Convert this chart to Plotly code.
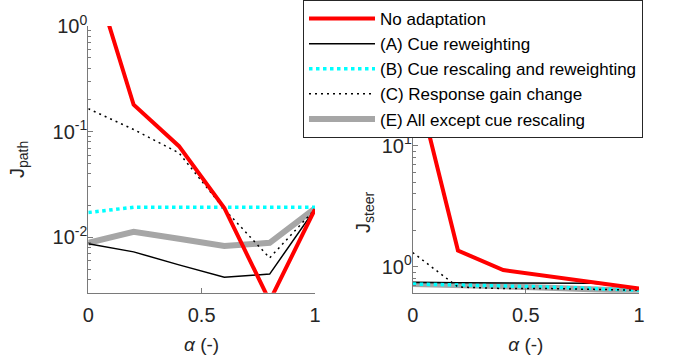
"""Coste de trayectoria y de dirección frente a alpha, por tipo de adaptación."""

import numpy as np
import plotly.graph_objects as go
from plotly.subplots import make_subplots

RED = "#ff0000"
BLACK = "#000000"
CYAN = "#00ffff"
GRAY = "#a6a6a6"
AXIS = "#7a7a7a"
TEXT = "#262626"
FONT = "Liberation Sans, Arial, sans-serif"

alpha = [0, 0.2, 0.4, 0.6, 0.8, 1]

# J_path (left panel)
path_none = [4.4, 0.18, 0.073, 0.019, 0.0025, 0.0185]
path_a = [0.0087, 0.0073, 0.0055, 0.0042, 0.0045, 0.0185]
path_b = [0.0172, 0.0193, 0.0193, 0.0193, 0.0193, 0.0193]
path_c = [0.165, 0.105, 0.063, 0.0185, 0.0064, 0.0185]
path_e = [0.0089, 0.0113, 0.0097, 0.0083, 0.0089, 0.0188]

# J_steer (right panel)
steer_none = [44, 1.36, 0.94, 0.84, 0.74, 0.66]
steer_a = [0.74, 0.74, 0.74, 0.74, 0.73, 0.66]
steer_b = [0.72, 0.71, 0.70, 0.68, 0.66, 0.64]
steer_c = [1.31, 0.68, 0.66, 0.66, 0.65, 0.64]
steer_e = [0.72, 0.71, 0.69, 0.67, 0.65, 0.63]

names = [
    "No adaptation",
    "(A) Cue reweighting",
    "(B) Cue rescaling and reweighting",
    "(C) Response gain change",
    "(E) All except cue rescaling",
]

# drawing order: thick gray underneath, red on top
styles = [
    (4, dict(color=GRAY, width=6)),
    (1, dict(color=BLACK, width=1.5)),
    (2, dict(color=CYAN, width=3.5, dash="dot")),
    (3, dict(color=BLACK, width=1.5, dash="2px,4px")),
    (0, dict(color=RED, width=4)),
]

fig = make_subplots(rows=1, cols=2)

series_path = [path_none, path_a, path_b, path_c, path_e]
series_steer = [steer_none, steer_a, steer_b, steer_c, steer_e]

for idx, line in styles:
    fig.add_trace(go.Scatter(
        x=alpha, y=series_path[idx], mode="lines", line=line,
        name=names[idx], legendrank=idx + 1,
    ), row=1, col=1)
    fig.add_trace(go.Scatter(
        x=alpha, y=series_steer[idx], mode="lines", line=line,
        name=names[idx], showlegend=False,
    ), row=1, col=2)

W, H = 676, 358
xaxis_common = dict(
    range=[0, 1], tickvals=[0, 0.5, 1], ticktext=["0", "0.5", "1"],
    ticks="inside", ticklen=5, tickcolor=AXIS, showline=True, linecolor=AXIS,
    linewidth=1, showgrid=False, zeroline=False, automargin=False,
    tickfont=dict(size=20, color=TEXT), ticklabelstandoff=4,
    title=dict(text="<i>α</i> (-)", font=dict(size=19, color=TEXT), standoff=12),
)
yaxis_common = dict(
    type="log", ticks="inside", ticklen=5, tickcolor=AXIS, showline=True,
    linecolor=AXIS, linewidth=1, showgrid=False, zeroline=False,
    automargin=False, tickfont=dict(size=20, color=TEXT), ticklabelstandoff=-4,
    minor=dict(ticks="inside", ticklen=3, tickcolor=AXIS, dtick="D1", showgrid=False),
)

fig.update_layout(
    width=W, height=H,
    margin=dict(l=0, r=0, t=0, b=0),
    paper_bgcolor="white", plot_bgcolor="white",
    font=dict(family=FONT, color=TEXT, size=18),
    xaxis=dict(**xaxis_common, domain=[88.3 / W, 315 / W]),
    xaxis2=dict(**xaxis_common, domain=[412.7 / W, 639 / W]),
    yaxis=dict(
        **yaxis_common, domain=[1 - 292.7 / H, 1 - 26 / H],
        range=[np.log10(0.003), 0],
        tickvals=[0.01, 0.1, 1],
        ticktext=["10<sup>-2</sup>", "10<sup>-1</sup>", "10<sup>0</sup>"],
        title=dict(text="J<sub>path</sub>", font=dict(size=20, color=TEXT), standoff=22),
    ),
    yaxis2=dict(
        **yaxis_common, domain=[1 - 292.7 / H, 1 - 132 / H],
        range=[np.log10(0.61), np.log10(13)],
        tickvals=[1, 10],
        ticktext=["10<sup>0</sup>", "10<sup>1</sup>"],
        title=dict(text="J<sub>steer</sub>", font=dict(size=20, color=TEXT), standoff=5),
    ),
    legend=dict(
        x=303 / W, y=1, xanchor="left", yanchor="top",
        bgcolor="white", bordercolor=TEXT, borderwidth=1,
        font=dict(size=17, color=BLACK), tracegroupgap=0, itemwidth=66,
    ),
    showlegend=True,
)

# the page body has a default 8px margin; drop it so the figure sits at (0, 0)
fig.write_html(
    "out.html",
    config={"displayModeBar": False},
    post_script="document.body.style.margin = '0';",
)
